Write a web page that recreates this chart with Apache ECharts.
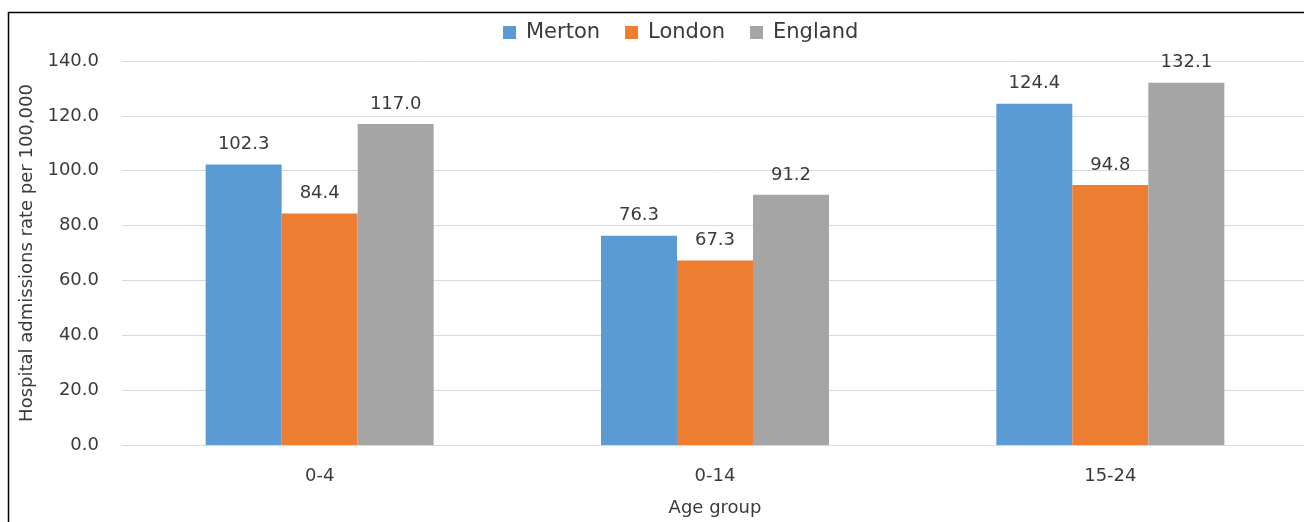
<!DOCTYPE html>
<html>
<head>
<meta charset="utf-8">
<script src="https://cdn.jsdelivr.net/npm/echarts@6/dist/echarts.min.js"></script>
<style>html,body{margin:0;padding:0;background:#fff;}#c{width:1304px;height:522px;}</style>
</head>
<body>
<div id="c"></div>
<script>
const categories = ['0-4', '0-14', '15-24'];
const merton = [102.3, 76.3, 124.4];
const london = [84.4, 67.3, 94.8];
const england = [117.0, 91.2, 132.1];
const seriesNames = ['Merton', 'London', 'England'];
const colors = ['#5B9BD5', '#ED7D31', '#A5A5A5'];

const FONT = 'DejaVu Sans';
const TXT = '#3A3A3A';
const chart = echarts.init(document.getElementById('c'), null, {renderer: 'canvas'});
function mk(name, data, color) {
  return {
    name: name, type: 'bar', data: data, barWidth: 76, barGap: '0%',
    itemStyle: {color: color},
    label: {show: true, position: 'top', distance: 11, color: TXT, fontFamily: FONT, fontSize: 18,
      formatter: p => p.value.toFixed(1)}
  };
}
chart.setOption({
  animation: false,
  textStyle: {fontFamily: FONT},
  graphic: [{type: 'rect', shape: {x: 8.5, y: 12.5, width: 1310, height: 520},
    style: {fill: null, stroke: '#000', lineWidth: 1.5}, silent: true}],
  legend: {
    data: seriesNames, top: 22, left: 503, padding: 0, itemWidth: 13, itemHeight: 13, itemGap: 25,
    icon: 'rect', textStyle: {fontFamily: FONT, fontSize: 21, color: TXT, padding: [0, 0, 0, 5]}
  },
  grid: {left: 122, top: 61, width: 1186, height: 384, containLabel: false, outerBoundsMode: 'none'},
  xAxis: {
    type: 'category', data: categories,
    name: 'Age group', nameLocation: 'middle', nameGap: 54,
    nameTextStyle: {fontFamily: FONT, fontSize: 18, color: TXT},
    axisLine: {show: true, lineStyle: {color: '#D9D9D9', width: 1}},
    axisTick: {show: false},
    axisLabel: {fontFamily: FONT, fontSize: 18, color: TXT, margin: 22}
  },
  yAxis: {
    type: 'value', min: 0, max: 140, interval: 20,
    name: 'Hospital admissions rate per 100,000', nameLocation: 'middle', nameGap: 80, nameRotate: 90,
    nameTextStyle: {fontFamily: FONT, fontSize: 18, color: TXT},
    axisLine: {show: false}, axisTick: {show: false},
    splitLine: {lineStyle: {color: '#D9D9D9', width: 1}},
    axisLabel: {fontFamily: FONT, fontSize: 18, color: TXT, margin: 23, formatter: v => v.toFixed(1)}
  },
  series: [mk(seriesNames[0], merton, colors[0]), mk(seriesNames[1], london, colors[1]), mk(seriesNames[2], england, colors[2])]
});
</script>
</body>
</html>
